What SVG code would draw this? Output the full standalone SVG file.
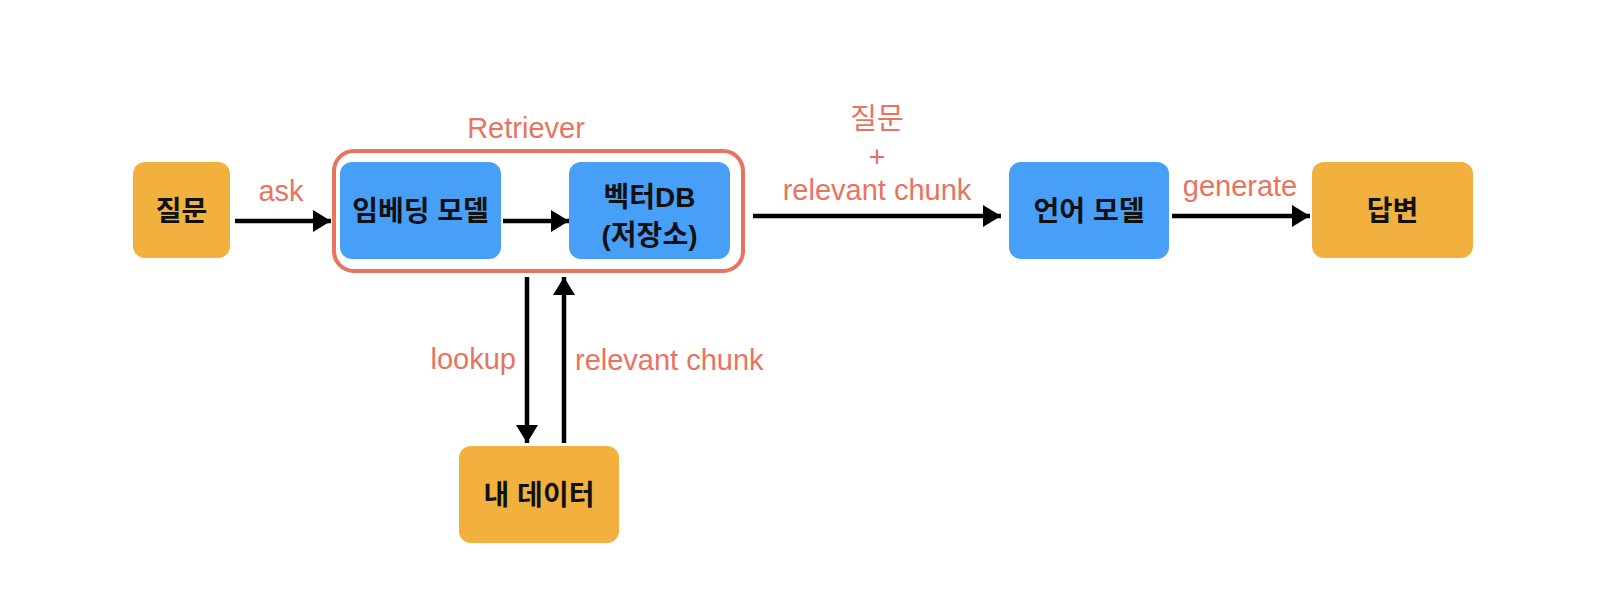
<svg xmlns="http://www.w3.org/2000/svg" width="1618" height="604" viewBox="0 0 1618 604">
<style>
.bg{fill:#ffffff}
.org{fill:#F2B13E}
.blu{fill:#479FF8}
.ntxt{font-family:"Liberation Sans","Noto Sans CJK KR",sans-serif;font-size:28px;font-weight:700;fill:#111111;text-anchor:middle}
.lbl{font-family:"Liberation Sans","Noto Sans CJK KR",sans-serif;font-size:29px;fill:#E9735F;text-anchor:middle}
.edge{stroke:#000000;stroke-width:4.5;fill:none}
</style>
<defs>
<marker id="ah" markerUnits="userSpaceOnUse" markerWidth="20" markerHeight="24" viewBox="0 0 20 24" refX="18" refY="11" orient="auto">
<path d="M0,0 L18,11 L0,22 z" fill="#000000"/>
</marker>
</defs>
<rect class="bg" x="0" y="0" width="1618" height="604"/>
<g id="retriever">
<rect x="334" y="151" width="409" height="120" rx="20" ry="20" fill="none" stroke="#E9735F" stroke-width="4"/>
<text class="lbl" x="526" y="138">Retriever</text>
</g>
<g id="q">
<rect class="org" x="133" y="162" width="97" height="96" rx="12"/>
<text class="ntxt" x="181.5" y="221">질문</text>
</g>
<g id="embed">
<rect class="blu" x="340" y="162" width="161" height="97" rx="12"/>
<text class="ntxt" x="420.5" y="221">임베딩 모델</text>
</g>
<g id="vdb">
<rect class="blu" x="569" y="162" width="161" height="97" rx="12"/>
<text class="ntxt" x="649.5" y="207">벡터DB</text>
<text class="ntxt" x="649.5" y="245">(저장소)</text>
</g>
<g id="llm">
<rect class="blu" x="1009" y="162" width="160" height="97" rx="12"/>
<text class="ntxt" x="1089" y="221">언어 모델</text>
</g>
<g id="answer">
<rect class="org" x="1312" y="162" width="161" height="96" rx="12"/>
<text class="ntxt" x="1392.5" y="221">답변</text>
</g>
<g id="mydata">
<rect class="org" x="459" y="446" width="160" height="97" rx="12"/>
<text class="ntxt" x="539" y="505">내 데이터</text>
</g>
<g id="connectors">
<line class="edge" x1="235" y1="221" x2="331" y2="221" marker-end="url(#ah)"/>
<text class="lbl" x="281" y="201">ask</text>
<line class="edge" x1="503" y1="221" x2="569" y2="221" marker-end="url(#ah)"/>
<line class="edge" x1="753" y1="216" x2="1001" y2="216" marker-end="url(#ah)"/>
<text class="lbl" x="877" y="129">질문</text>
<text class="lbl" x="877" y="167">+</text>
<text class="lbl" x="877" y="200">relevant chunk</text>
<line class="edge" x1="1172" y1="216" x2="1310" y2="216" marker-end="url(#ah)"/>
<text class="lbl" x="1240" y="196">generate</text>
<line class="edge" x1="527" y1="277" x2="527" y2="443" marker-end="url(#ah)"/>
<text class="lbl" x="516" y="369" style="text-anchor:end">lookup</text>
<line class="edge" x1="564" y1="443" x2="564" y2="277" marker-end="url(#ah)"/>
<text class="lbl" x="575" y="370" style="text-anchor:start">relevant chunk</text>
</g>
</svg>
